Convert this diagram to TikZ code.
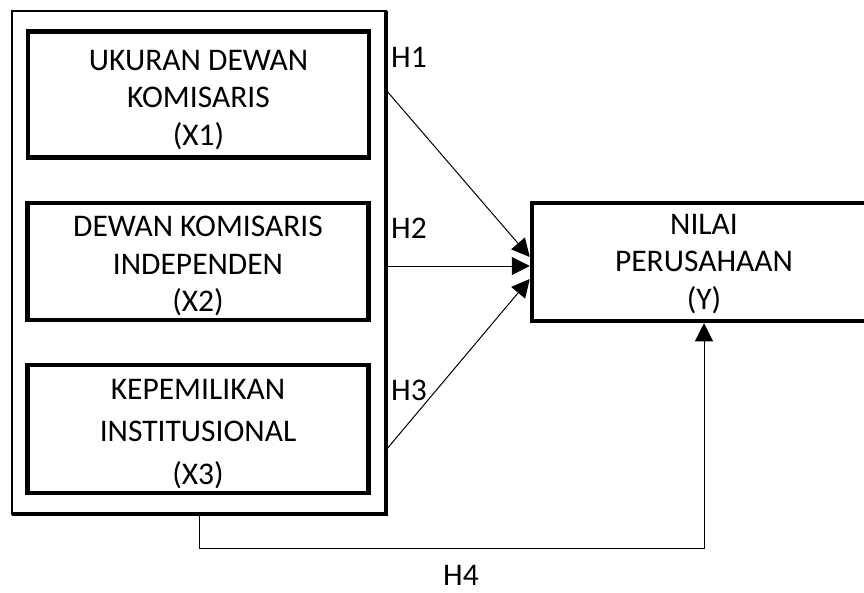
\documentclass[tikz,border=0pt]{standalone}
\usepackage{fontspec}
\setmainfont{Carlito}
\usetikzlibrary{arrows.meta}
\begin{document}
\begin{tikzpicture}[x=1pt,y=-1pt,
  varbox/.style={draw, line width=4.5pt, inner sep=0pt},
  vartext/.style={align=center, inner sep=0pt, font=\fontsize{31.5}{37.5}\selectfont},
  conn/.style={line width=1pt, -{Triangle[length=18pt,width=18pt]}},
  hyp/.style={font=\fontsize{31.5}{37}\selectfont, inner sep=0pt}]
\clip (0,0) rectangle (864,592);
% outer group box
\node[draw, line width=1.5pt, outer sep=0pt, inner sep=0pt, minimum width=374pt, minimum height=503pt] (outer) at (199,262.5) {};
\draw[line width=4.5pt] (outer.north east) -- (outer.south east) -- (outer.south west);
% variable boxes
\node[varbox, minimum width=341pt, minimum height=126pt] (x1) at (198.5,94.5) {};
\node[varbox, minimum width=341pt, minimum height=117pt] (x2) at (198,261.5) {};
\node[varbox, minimum width=341pt, minimum height=128pt] (x3) at (198,429) {};
\node[varbox, minimum width=344pt, minimum height=118pt] (y) at (704,262) {};
% texts
\node[vartext] (x1t) at (198.5,100) {UKURAN DEWAN\\KOMISARIS\\(X1)};
\node[vartext] (x2t) at (198,266) {DEWAN KOMISARIS\\INDEPENDEN\\(X2)};
\node[vartext, font=\fontsize{31.5}{42.5}\selectfont] (x3t) at (198,434) {KEPEMILIKAN\\INSTITUSIONAL\\(X3)};
\node[vartext] (yt) at (704,264) {NILAI\\PERUSAHAAN\\(Y)};
% connector start points on the outer box
\coordinate (h1s) at (386,90);
\coordinate (h2s) at (386,266);
\coordinate (h3s) at (386,450);
\draw[conn] (h1s) -- ([yshift=5pt]y.west);
\draw[conn] (h2s) -- ([yshift=-4pt]y.west);
\draw[conn] (h3s) -- ([yshift=-17pt]y.west);
\draw[conn] (outer.south) -- ++(0,34) -| (y.south);
% hypothesis labels
\node[hyp] (h1) at (409,57) {H1};
\node[hyp] (h2) at (409,228) {H2};
\node[hyp] (h3) at (409,390) {H3};
\node[hyp] (h4) at (461,575) {H4};
\end{tikzpicture}
\end{document}
